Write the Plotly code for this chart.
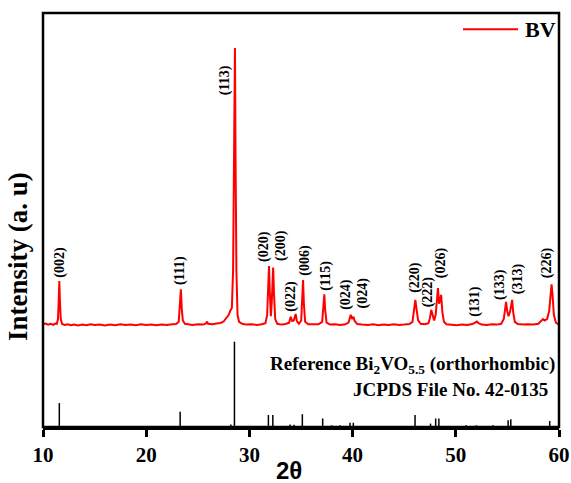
import plotly.graph_objects as go

# ---------------- data ----------------
two_theta = [10.00, 10.25, 10.50, 10.75, 11.00, 11.20, 11.35, 11.45, 11.52, 11.58, 11.64, 11.72, 11.85,
             12.10, 12.40, 12.70, 13.00, 13.40, 13.80, 14.20, 14.60, 15.00, 15.50, 16.00, 16.50, 17.00,
             17.50, 18.00, 18.50, 19.00, 19.50, 20.00, 20.50, 21.00, 21.50, 22.00, 22.50, 22.90, 23.15,
             23.25, 23.36, 23.45, 23.55, 23.75, 24.10, 24.50, 25.00, 25.50, 25.80, 25.90, 26.00, 26.40,
             26.80, 27.20, 27.50, 27.80, 28.00, 28.15, 28.30, 28.42, 28.52, 28.60, 28.66, 28.74, 28.85,
             29.00, 29.30, 29.70, 30.20, 30.70, 31.20, 31.55, 31.72, 31.82, 31.90, 31.98, 32.08, 32.16,
             32.24, 32.30, 32.38, 32.50, 32.70, 33.10, 33.50, 33.85, 34.00, 34.15, 34.30, 34.48, 34.60,
             34.80, 35.02, 35.12, 35.20, 35.28, 35.40, 35.70, 36.20, 36.70, 37.05, 37.16, 37.26, 37.35,
             37.48, 37.80, 38.30, 38.80, 39.30, 39.60, 39.75, 39.82, 39.95, 40.08, 40.20, 40.45, 40.90,
             41.50, 42.00, 42.50, 43.00, 43.50, 44.00, 44.50, 45.00, 45.50, 45.80, 45.95, 46.08, 46.20,
             46.35, 46.60, 47.00, 47.35, 47.50, 47.62, 47.75, 47.90, 48.05, 48.18, 48.27, 48.38, 48.47,
             48.58, 48.70, 48.85, 49.10, 49.60, 50.10, 50.60, 51.10, 51.60, 51.90, 52.05, 52.20, 52.50,
             53.00, 53.50, 54.00, 54.40, 54.65, 54.78, 54.87, 54.98, 55.10, 55.25, 55.38, 55.46, 55.56,
             55.72, 56.00, 56.50, 57.00, 57.50, 58.00, 58.30, 58.45, 58.60, 58.85, 59.05, 59.18, 59.28,
             59.38, 59.50, 59.70, 60.00]
intensity = [0.6, 0.9, 0.5, 0.8, 0.4, 0.9, 0.8, 2.5, 9.0, 16.2, 9.0, 2.5, 0.7,
             0.4, 0.6, 0.3, 0.5, 0.2, 0.5, 0.3, 0.6, 0.4, 0.5, 0.2, 0.5, 0.3,
             0.6, 0.4, 0.5, 0.3, 0.6, 0.4, 0.5, 0.3, 0.5, 0.4, 0.6, 0.7, 1.5,
             6.5, 13.2, 6.0, 2.0, 0.8, 0.6, 0.4, 0.6, 0.5, 0.9, 1.6, 0.8, 0.6,
             0.9, 1.1, 1.6, 3.0, 4.0, 5.5, 6.5, 20.0, 70.0, 100.0, 60.0, 20.0, 4.0,
             1.5, 0.8, 0.5, 0.6, 0.4, 0.6, 1.0, 4.0, 15.0, 21.6, 12.0, 3.5, 8.0,
             17.0, 21.0, 12.0, 2.5, 0.8, 0.5, 0.7, 1.2, 3.3, 1.8, 2.0, 4.3, 1.8,
             0.8, 2.0, 9.0, 16.5, 8.0, 1.5, 0.6, 0.5, 0.6, 1.5, 6.0, 11.4, 5.5,
             1.2, 0.5, 0.6, 0.4, 0.6, 1.2, 3.5, 4.0, 2.5, 3.3, 1.8, 0.7, 0.5,
             0.4, 0.6, 0.3, 0.5, 0.4, 0.6, 0.4, 0.5, 0.7, 1.5, 5.0, 9.4, 6.0,
             2.0, 0.8, 0.6, 1.0, 3.0, 5.8, 3.5, 2.0, 4.0, 10.0, 13.6, 8.0, 9.5,
             11.2, 5.0, 1.5, 0.6, 0.5, 0.3, 0.5, 0.4, 0.7, 1.2, 1.6, 1.0, 0.5,
             0.4, 0.6, 0.5, 0.8, 2.5, 6.5, 8.7, 5.5, 3.5, 5.0, 8.5, 9.4, 5.0,
             1.5, 0.7, 0.5, 0.6, 0.5, 0.8, 1.8, 2.5, 2.0, 2.5, 5.5, 12.0, 15.0,
             11.0, 4.0, 1.2, 0.5]

ref_pos = [11.58, 23.29, 28.20, 28.55, 31.84, 32.27, 33.94, 34.33, 35.13, 37.10, 37.97, 38.78,
           39.75, 40.07, 46.05, 47.55, 48.05, 48.36, 51.00, 52.00, 53.60, 55.07, 55.33, 59.10]
ref_int = [28, 18, 3, 100, 14, 14, 3, 2.5, 15, 10, 2, 2,
           5, 5, 14, 4, 10, 10, 2, 2, 2, 8, 9, 7]

hkl_labels = ["(002)", "(111)", "(113)", "(020)", "(200)", "(022)", "(006)", "(115)", "(024)",
              "(024)", "(220)", "(222)", "(026)", "(131)", "(133)", "(313)", "(226)"]
label_x = [11.61, 23.29, 27.65, 31.36, 33.07, 34.00, 35.42, 37.40, 39.36,
           40.97, 45.97, 47.33, 48.53, 51.85, 54.27, 56.04, 58.79]
label_y = [23.0, 19.8, 88.5, 28.6, 28.8, 10.8, 23.6, 18.0, 11.2,
           11.9, 17.4, 12.2, 22.8, 9.0, 15.1, 16.9, 22.8]

x_ticks = [10, 20, 30, 40, 50, 60]

# ---------------- figure ----------------
SERIF = "Liberation Serif"
fig = go.Figure()

fig.add_trace(go.Scatter(x=two_theta, y=intensity, mode="lines", name="BV",
                         line=dict(color="#ff0000", width=2), xaxis="x", yaxis="y2",
                         showlegend=False))

sx, sy = [], []
for p, h in zip(ref_pos, ref_int):
    sx += [p, p, None]
    sy += [0, h, None]
fig.add_trace(go.Scatter(x=sx, y=sy, mode="lines", line=dict(color="black", width=1.5),
                         xaxis="x", yaxis="y", showlegend=False, connectgaps=False))

split = 0.2343
fig.update_layout(
    width=571, height=483,
    margin=dict(l=43, r=12, t=13, b=56, autoexpand=False),
    paper_bgcolor="white", plot_bgcolor="white",
    xaxis=dict(range=[10, 60], domain=[0, 1], anchor="y", tickvals=x_ticks,
               ticks="outside", ticklen=7, tickwidth=3, tickcolor="black",
               showline=True, linewidth=3, linecolor="black", showgrid=False, zeroline=False,
               automargin=False,
               tickfont=dict(family=SERIF, size=21, color="black", weight="bold")),
    yaxis=dict(domain=[0, split], range=[0, 113.7], visible=False, anchor="x"),
    yaxis2=dict(domain=[split, 1], range=[-1.44, 112.6], visible=False, anchor="x"),
    showlegend=False,
)

# frame
fig.add_shape(type="rect", xref="paper", yref="paper", x0=0, x1=1, y0=0, y1=1,
              line=dict(color="black", width=2.5), fillcolor="rgba(0,0,0,0)")

# hkl labels
for t, lx, ly in zip(hkl_labels, label_x, label_y):
    fig.add_annotation(x=lx, y=ly, xref="x", yref="y2", text=t, textangle=-90, showarrow=False,
                       font=dict(family=SERIF, size=14, color="black", weight="bold"))

# legend (line + text)
fig.add_shape(type="line", xref="paper", yref="paper", x0=0.814, x1=0.9205, y0=0.961, y1=0.961,
              line=dict(color="#ff0000", width=2))
fig.add_annotation(x=0.93, y=0.959, xref="paper", yref="paper", text="BV", showarrow=False,
                   xanchor="left", yanchor="middle",
                   font=dict(family=SERIF, size=22, color="black", weight="bold"))

# reference text
fig.add_annotation(x=0.996, y=0.1498, xref="paper", yref="paper",
                   text="Reference Bi<sub>2</sub>VO<sub>5.5</sub> (orthorhombic)", showarrow=False,
                   xanchor="right", yanchor="middle",
                   font=dict(family=SERIF, size=19, color="black", weight="bold"))
fig.add_annotation(x=0.9826, y=0.0894, xref="paper", yref="paper",
                   text="JCPDS File No. 42-0135", showarrow=False,
                   xanchor="right", yanchor="middle",
                   font=dict(family=SERIF, size=19, color="black", weight="bold"))

# axis titles
fig.add_annotation(x=0.477, y=-0.106, xref="paper", yref="paper", text="2θ", showarrow=False,
                   xanchor="center", yanchor="middle",
                   font=dict(family="Liberation Sans", size=24, color="black", weight="bold"))
fig.add_annotation(x=-0.0484, y=0.4106, xref="paper", yref="paper", text="Intensity (a. u)",
                   textangle=-90, showarrow=False, xanchor="center", yanchor="middle",
                   font=dict(family=SERIF, size=27, color="black", weight="bold"))

fig.write_html("out.html", config={"displayModeBar": False},
               post_script="document.body.style.margin='0';document.body.style.overflow='hidden';")
